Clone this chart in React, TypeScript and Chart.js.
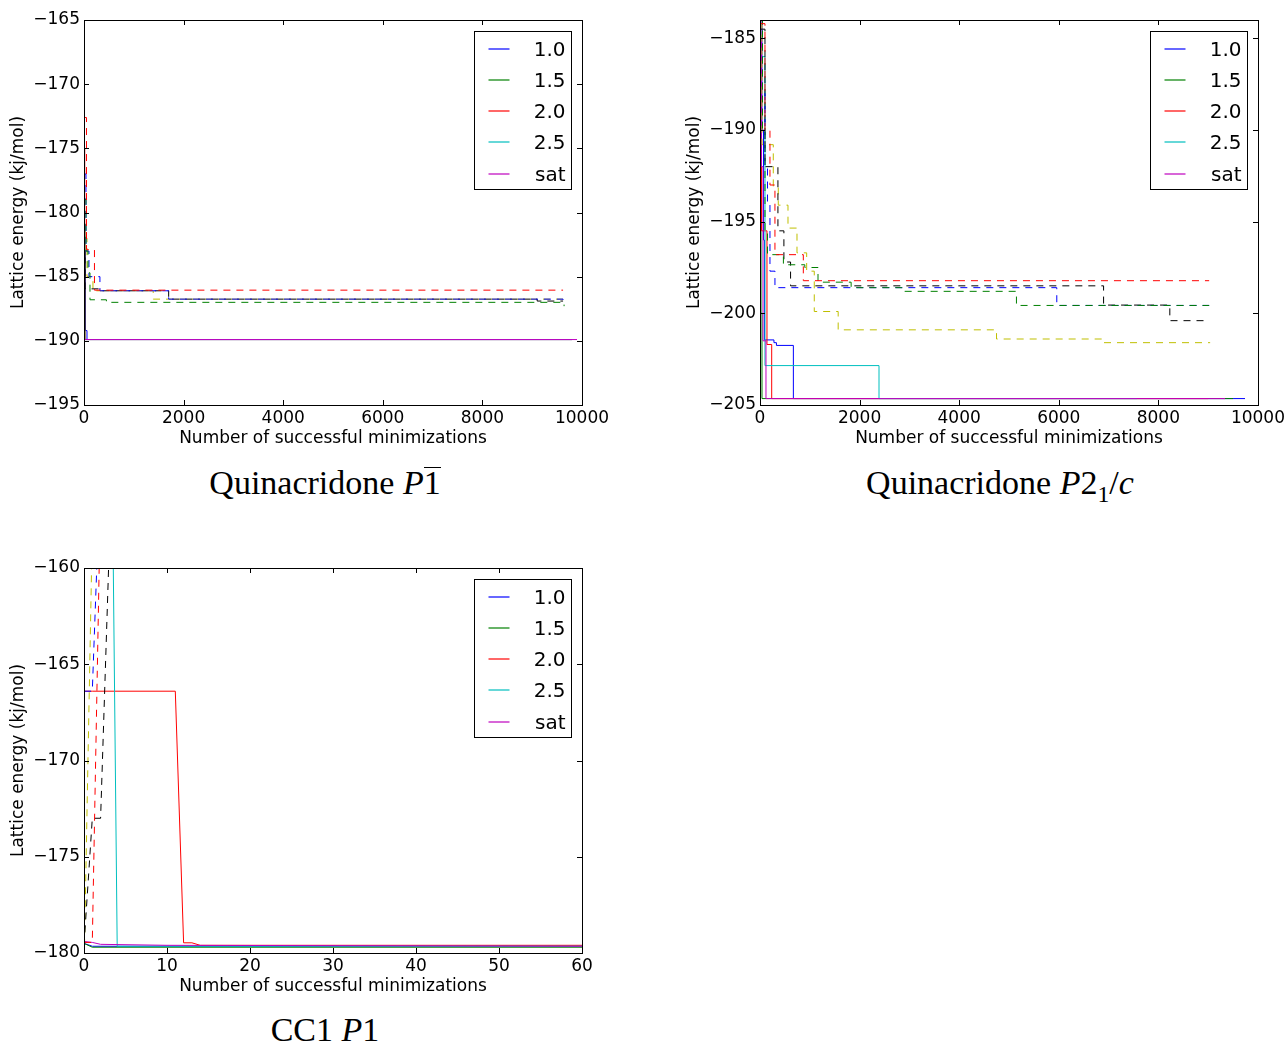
import React, { useEffect, useRef } from "react";
import { Chart, registerables } from "chart.js";

Chart.register(...registerables);

type Pair = [number, number];

// ---------- shared ----------
const SERIES_LABELS = ["1.0", "1.5", "2.0", "2.5", "sat"];
const SOLID_COLORS = ["#0000ff", "#008000", "#ff0000", "#00bfbf", "#bf00bf"];
const DASHED_COLORS = ["#bfbf00", "#000000", "#0000ff", "#008000", "#ff0000"];
const X_TITLE = "Number of successful minimizations";
const Y_TITLE = "Lattice energy (kj/mol)";

// ---------- Quinacridone P-1 ----------
const q1XTicks = [0, 2000, 4000, 6000, 8000, 10000];
const q1YTicks = [-195, -190, -185, -180, -175, -170, -165];
const q1Solid10: Pair[] = [[0, -178], [10, -183], [30, -189.2], [60, -189.9], [9800, -189.9]];
const q1Solid15: Pair[] = [[0, -181], [20, -189.9], [9800, -189.9]];
const q1Solid20: Pair[] = [[0, -175], [15, -189.9], [9800, -189.9]];
const q1Solid25: Pair[] = [[0, -180], [10, -189.9], [9800, -189.9]];
const q1SolidSat: Pair[] = [[0, -182], [10, -189.9], [9900, -189.9]];
const q1DashY: Pair[] = [[0, -182], [60, -185], [180, -186.1], [1390, -186.75], [9620, -186.85]];
const q1DashK: Pair[] = [[0, -183.5], [20, -185.95], [320, -186.1], [1700, -186.75], [9100, -186.9], [9620, -186.9]];
const q1DashB: Pair[] = [[0, -177], [40, -183], [100, -185], [320, -186.1], [1700, -186.75], [9620, -186.85]];
const q1DashG: Pair[] = [[0, -179], [40, -183], [80, -184.7], [120, -186.8], [450, -187.0], [9620, -187.0], [9640, -187.3]];
const q1DashR: Pair[] = [[0, -172.6], [50, -182.9], [210, -186.05], [9620, -186.05]];

// ---------- Quinacridone P2_1/c ----------
const q2XTicks = [0, 2000, 4000, 6000, 8000, 10000];
const q2YTicks = [-205, -200, -195, -190, -185];
const q2Solid10: Pair[] = [[0, -183], [40, -190], [70, -196], [90, -201.45], [280, -201.6], [330, -201.75], [670, -204.65], [9740, -204.65]];
const q2Solid15: Pair[] = [[0, -190], [20, -200], [40, -204.65], [9500, -204.65]];
const q2Solid20: Pair[] = [[0, -183.5], [15, -192], [30, -195.5], [140, -201.7], [235, -204.65], [9000, -204.65]];
const q2Solid25: Pair[] = [[0, -186], [100, -202.85], [2390, -204.65], [7570, -204.65]];
const q2SolidSat: Pair[] = [[0, -185], [30, -192], [60, -201.5], [120, -204.65], [9340, -204.65]];
const q2DashY: Pair[] = [[0, -184.2], [40, -190.8], [267, -193.15], [367, -194.1], [562, -195.35], [743, -196.7], [937, -197.7], [1090, -199.9], [1570, -200.9], [4750, -201.4], [6880, -201.6], [9040, -201.6]];
const q2DashK: Pair[] = [[0, -184.5], [100, -192], [360, -195.5], [480, -197.2], [614, -198.5], [6900, -199.55], [8230, -200.4], [9020, -200.4]];
const q2DashB: Pair[] = [[0, -184], [50, -188], [100, -192], [150, -194], [200, -197.7], [300, -198.6], [5960, -199.57], [9020, -199.57]];
const q2DashG: Pair[] = [[0, -184], [50, -190], [100, -195.6], [150, -196.8], [470, -197.35], [900, -197.5], [1165, -198.3], [1830, -198.6], [2850, -198.8], [5150, -199.57], [9020, -199.57]];
const q2DashR: Pair[] = [[0, -184.2], [100, -190], [200, -193], [300, -196.8], [870, -198.22], [9020, -198.22]];

// ---------- CC1 P1 ----------
const c1XTicks = [0, 10, 20, 30, 40, 50, 60];
const c1YTicks = [-180, -175, -170, -165, -160];
const c1Solid10: Pair[] = [[0, -179.5], [1, -179.65], [60, -179.65]];
const c1Solid15: Pair[] = [[0, -179.5], [1, -179.7], [60, -179.7]];
const c1Solid20: Pair[] = [[0, -166.4], [1, -166.4], [11, -166.4], [12, -179.47], [13, -179.47], [14, -179.6], [60, -179.6]];
const c1Solid25: Pair[] = [[0, -137.9], [3, -137.9], [4, -179.65], [60, -179.65]];
const c1SolidSat: Pair[] = [[0, -179.4], [1, -179.45], [2, -179.55], [10, -179.6], [60, -179.65]];
const c1DashY: Pair[] = [[0, -181], [1, -158]];
const c1DashK: Pair[] = [[0, -179.6], [1, -173], [2, -173], [3, -159.5], [4, -150]];
const c1DashB: Pair[] = [[0, -166.4], [1, -166.4], [2, -154.5]];
const c1DashR: Pair[] = [[0, -179.45], [1, -179.45], [2, -156]];

interface PanelSpec {
  xMin: number; xMax: number; yMin: number; yMax: number;
  xTicks: number[]; yTicks: number[];
  solid: Pair[][]; dashed: (Pair[] | null)[];
  stepped: boolean; width: number; height: number;
}

const fmt = (v: number) => (v < 0 ? "\u2212" + Math.abs(v) : String(v));
const FONT = { family: '"DejaVu Sans"', size: 17 };

const frameLegendPlugin = {
  id: "frameLegend",
  afterDatasetsDraw(chart: any) {
    const { ctx, chartArea: a, scales } = chart;
    ctx.save();
    ctx.strokeStyle = "#000";
    ctx.lineWidth = 1;
    const L = Math.round(a.left), T = Math.round(a.top), R = Math.round(a.right), B = Math.round(a.bottom);
    ctx.strokeRect(L + 0.5, T + 0.5, R - L, B - T);
    const tl = 5;
    ctx.beginPath();
    scales.x.ticks.forEach((t: any) => {
      const px = Math.round(scales.x.getPixelForValue(t.value)) + 0.5;
      ctx.moveTo(px, B); ctx.lineTo(px, B - tl);
      ctx.moveTo(px, T); ctx.lineTo(px, T + tl);
    });
    scales.y.ticks.forEach((t: any) => {
      const py = Math.round(scales.y.getPixelForValue(t.value)) + 0.5;
      ctx.moveTo(L, py); ctx.lineTo(L + tl, py);
      ctx.moveTo(R, py); ctx.lineTo(R - tl, py);
    });
    ctx.stroke();
    // legend
    const bx = R - 108 + 0.5, by = T + 11 + 0.5, bw = 97, bh = 158;
    ctx.fillStyle = "#fff";
    ctx.fillRect(bx, by, bw, bh);
    ctx.strokeRect(bx, by, bw, bh);
    ctx.font = '20px "DejaVu Sans"';
    ctx.textAlign = "right";
    ctx.textBaseline = "middle";
    const items = chart.data.datasets.filter((d: any) => d.label);
    items.forEach((d: any, i: number) => {
      const y = Math.round(by + 17 + i * 31.3);
      ctx.strokeStyle = d.borderColor;
      ctx.lineWidth = 1.2;
      ctx.beginPath(); ctx.moveTo(bx + 14, y); ctx.lineTo(bx + 35, y); ctx.stroke();
      ctx.fillStyle = "#000";
      ctx.fillText(d.label, bx + 91, y + 1.5);
    });
    ctx.restore();
  },
};

function buildConfig(p: PanelSpec): any {
  const toXY = (arr: Pair[]) => arr.map(([x, y]) => ({ x, y }));
  const datasets: any[] = [];
  const stepMode = p.stepped ? "before" : false;
  p.solid.forEach((s, i) => datasets.push({
    label: SERIES_LABELS[i], data: toXY(s), borderColor: SOLID_COLORS[i],
    borderWidth: 1, pointRadius: 0, fill: false, stepped: stepMode, tension: 0,
  }));
  p.dashed.forEach((s, i) => {
    if (!s) return;
    datasets.push({
      label: "", data: toXY(s), borderColor: DASHED_COLORS[i], borderDash: [7, 6],
      borderWidth: 1, pointRadius: 0, fill: false, stepped: stepMode, tension: 0,
    });
  });
  // later series drawn on top (matplotlib order)
  datasets.forEach((d, i) => { d.order = datasets.length - i; });
  return {
    type: "line",
    data: { datasets },
    options: {
      animation: false, responsive: false, maintainAspectRatio: false,
      layout: { padding: { top: 20, left: 0, bottom: 0, right: p.width - 582 } },
      plugins: { legend: { display: false }, tooltip: { enabled: false } },
      scales: {
        x: {
          type: "linear", min: p.xMin, max: p.xMax,
          afterBuildTicks: (s: any) => { s.ticks = p.xTicks.map((v) => ({ value: v })); },
          afterFit: (s: any) => { s.height = p.height - 405; },
          grid: { display: false, drawTicks: false }, border: { display: false },
          ticks: { color: "#000", font: FONT, padding: 3, maxRotation: 0, autoSkip: false, callback: (v: any) => fmt(Number(v)) },
          title: { display: true, text: X_TITLE, color: "#000", font: FONT, padding: { top: 0, bottom: 11 } },
        },
        y: {
          type: "linear", min: p.yMin, max: p.yMax,
          afterBuildTicks: (s: any) => { s.ticks = p.yTicks.map((v) => ({ value: v })); },
          afterFit: (s: any) => { s.width = 84; },
          grid: { display: false, drawTicks: false }, border: { display: false },
          ticks: { color: "#000", font: FONT, padding: 4, autoSkip: false, callback: (v: any) => fmt(Number(v)) },
          title: { display: true, text: Y_TITLE, color: "#000", font: FONT, padding: { top: 8, bottom: 0 } },
        },
      },
    },
    plugins: [frameLegendPlugin],
  };
}

const panel1: PanelSpec = {
  xMin: 0, xMax: 10000, yMin: -195, yMax: -165, xTicks: q1XTicks, yTicks: q1YTicks,
  solid: [q1Solid10, q1Solid15, q1Solid20, q1Solid25, q1SolidSat],
  dashed: [q1DashY, q1DashK, q1DashB, q1DashG, q1DashR],
  stepped: true, width: 640, height: 460,
};
const panel2: PanelSpec = {
  xMin: 0, xMax: 10000, yMin: -205, yMax: -184, xTicks: q2XTicks, yTicks: q2YTicks,
  solid: [q2Solid10, q2Solid15, q2Solid20, q2Solid25, q2SolidSat],
  dashed: [q2DashY, q2DashK, q2DashB, q2DashG, q2DashR],
  stepped: true, width: 612, height: 460,
};
const panel3: PanelSpec = {
  xMin: 0, xMax: 60, yMin: -180, yMax: -160, xTicks: c1XTicks, yTicks: c1YTicks,
  solid: [c1Solid10, c1Solid15, c1Solid20, c1Solid25, c1SolidSat],
  dashed: [c1DashY, c1DashK, c1DashB, null, c1DashR],
  stepped: false, width: 640, height: 460,
};

function Panel({ spec, left, top }: { spec: PanelSpec; left: number; top: number }) {
  const ref = useRef<HTMLCanvasElement>(null);
  useEffect(() => {
    const chart = new Chart(ref.current as HTMLCanvasElement, buildConfig(spec));
    return () => chart.destroy();
  }, [spec]);
  return (
    <canvas ref={ref} width={spec.width} height={spec.height}
      style={{ position: "absolute", left, top, width: spec.width, height: spec.height }} />
  );
}

const titleStyle: React.CSSProperties = {
  position: "absolute", fontFamily: '"Liberation Serif", serif', fontSize: 34, lineHeight: "38px",
  textAlign: "center", whiteSpace: "nowrap", color: "#000",
};

const overline: React.CSSProperties = {
  display: "inline-block", borderTop: "1.5px solid #000", lineHeight: "30px",
};

export default function App() {
  return (
    <div style={{ position: "absolute", left: 0, top: 0, width: 1288, height: 1045, background: "#fff", overflow: "hidden" }}>
      <Panel spec={panel1} left={0} top={0} />
      <Panel spec={panel2} left={676} top={0} />
      <Panel spec={panel3} left={0} top={548} />
      <div style={{ ...titleStyle, left: 25, width: 600, top: 464 }}>
        Quinacridone <i>P</i><span style={overline}>1</span>
      </div>
      <div style={{ ...titleStyle, left: 750, width: 500, top: 464 }}>
        Quinacridone <i>P</i>2<sub style={{ fontSize: "70%" }}>1</sub>/<i>c</i>
      </div>
      <div style={{ ...titleStyle, left: 25, width: 600, top: 1011 }}>
        CC1 <i>P</i>1
      </div>
    </div>
  );
}
